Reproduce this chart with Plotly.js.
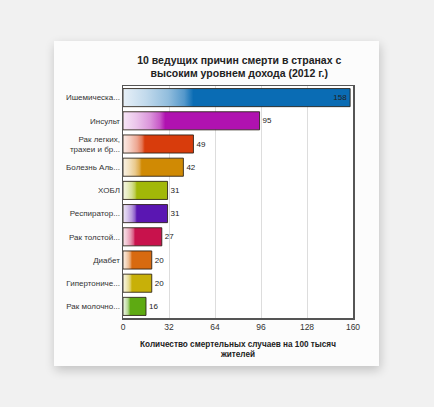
<!DOCTYPE html>
<html>
<head>
<meta charset="utf-8">
<script src="https://cdn.plot.ly/plotly-3.0.1.min.js"></script>
<style>
  html, body { margin: 0; padding: 0; background: #f1f1f1; width: 434px; height: 407px; overflow: hidden; }
  #card { position: absolute; left: 54px; top: 41px; width: 325px; height: 325px; background: #fcfcfc;
          border: 1px solid #d8d8d8; box-sizing: border-box; box-shadow: 1px 4px 10px rgba(0,0,0,0.2); }
  #chart { position: absolute; left: -1px; top: -1px; width: 325px; height: 325px; }
</style>
</head>
<body>
<div id="card"><div id="chart"></div></div>
<script>
const categories = ["Ишемическа...", "Инсульт", "Рак легких,<br>трахеи и бр...", "Болезнь Аль...", "ХОБЛ",
                    "Респиратор...", "Рак толстой...", "Диабет", "Гипертониче...", "Рак молочно..."];
const deaths = [158, 95, 49, 42, 31, 31, 27, 20, 20, 16];
const barColors = ["#0a6cb4", "#b012b0", "#d83c0c", "#d08a04", "#a2b808", "#5a16b2", "#c8124c", "#d86a10", "#c8b008", "#5eaa12"];
const xTicks = [0, 32, 64, 96, 128, 160];
const titleText = "10 ведущих причин смерти в странах с<br>высоким уровнем дохода (2012 г.)";
const xTitleText = "Количество смертельных случаев на 100 тысяч<br>жителей";

const FONT = "Liberation Sans, Arial, Helvetica, sans-serif";

const trace = {
  type: "bar",
  orientation: "h",
  y: categories,
  x: deaths,
  text: deaths.map(String),
  textposition: deaths.map((v, i) => i === 0 ? "inside" : "outside"),
  insidetextanchor: "end",
  textfont: { family: FONT, size: 8, color: "#222" },
  insidetextfont: { family: FONT, size: 8, color: "#222" },
  outsidetextfont: { family: FONT, size: 8, color: "#222" },
  cliponaxis: false,
  marker: { color: barColors, line: { color: "rgba(40,30,20,0.85)", width: 1 } },
  hoverinfo: "none"
};

const layout = {
  width: 325, height: 325,
  margin: { l: 69, r: 26, t: 45, b: 48 },
  paper_bgcolor: "#fcfcfc",
  plot_bgcolor: "#ffffff",
  showlegend: false,
  bargap: 0.22,
  font: { family: FONT, color: "#333" },
  title: { text: titleText, font: { family: FONT, size: 10.5, color: "#222", weight: "bold" },
           x: 0.57, xanchor: "center", y: 0.93, yanchor: "top" },
  xaxis: {
    range: [0, 160], tickvals: xTicks, ticktext: xTicks.map(String),
    showgrid: true, gridcolor: "#dddddd", gridwidth: 1, zeroline: false,
    showline: true, linecolor: "#555", linewidth: 1.5, mirror: true,
    ticks: "", tickfont: { family: FONT, size: 8.5, color: "#333" },
    title: { text: xTitleText, font: { family: FONT, size: 8.2, color: "#222", weight: "bold" }, standoff: 10 }
  },
  yaxis: {
    type: "category", autorange: "reversed",
    showline: true, linecolor: "#555", linewidth: 1.5, mirror: true,
    ticks: "", ticklen: 0, tickfont: { family: FONT, size: 8, color: "#333" },
    showgrid: false
  }
};

Plotly.newPlot("chart", [trace], layout, { staticPlot: true, displayModeBar: false }).then(gd => {
  const svg = gd.querySelector("svg.main-svg");
  let defs = svg.querySelector("defs");
  const NS = "http://www.w3.org/2000/svg";
  function mixWhite(hex, t) {
    const n = parseInt(hex.slice(1), 16);
    const r = (n >> 16) & 255, g = (n >> 8) & 255, b = n & 255;
    const m = c => Math.round(c + (255 - c) * t);
    return "rgb(" + m(r) + "," + m(g) + "," + m(b) + ")";
  }
  barColors.forEach((c, i) => {
    const lg = document.createElementNS(NS, "linearGradient");
    lg.setAttribute("id", "bargrad" + i);
    lg.setAttribute("x1", "0"); lg.setAttribute("y1", "0");
    lg.setAttribute("x2", "1"); lg.setAttribute("y2", "0");
    [[0, 0.9], [0.1, 0.75], [0.2, 0.55], [0.27, 0.3], [0.31, 0]].forEach(([o, t]) => {
      const s = document.createElementNS(NS, "stop");
      s.setAttribute("offset", o);
      s.setAttribute("stop-color", mixWhite(c, t));
      lg.appendChild(s);
    });
    defs.appendChild(lg);
  });
  gd.querySelectorAll(".trace.bars .point path").forEach((p, i) => {
    p.style.fill = "url(#bargrad" + i + ")";
  });
});
</script>
</body>
</html>
